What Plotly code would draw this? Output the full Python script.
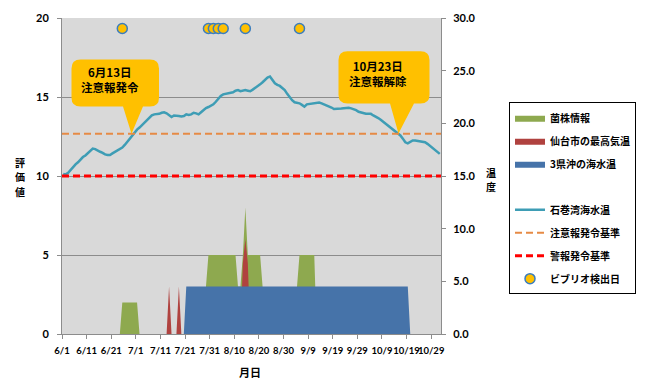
import pandas as pd
import plotly.graph_objects as go

# ---- data -------------------------------------------------------------
YEAR = 2013
FIRST_DAY = f"{YEAR}-06-01"
N_DAYS = 154  # 6/1 .. 11/1

# 石巻湾海水温 (℃), one value per day from 6/1
sea_temp_ishinomaki = [
    15.2, 15.15, 15.3, 15.6, 15.8, 16.1, 16.3, 16.6, 16.8, 16.95,
    17.2, 17.45, 17.6, 17.55, 17.4, 17.3, 17.2, 17.05, 17.0, 17.0,
    17.15, 17.3, 17.45, 17.6, 17.7, 17.95, 18.25, 18.5, 18.85, 19.15,
    19.4, 19.6, 19.85, 20.1, 20.3, 20.55, 20.75, 20.85, 20.85, 20.9,
    21.0, 21.05, 20.95, 20.8, 20.6, 20.75, 20.75, 20.7, 20.65, 20.7,
    20.85, 20.8, 20.85, 21.0, 20.95, 20.85, 21.05, 21.25, 21.45, 21.55,
    21.65, 21.8, 22.05, 22.35, 22.6, 22.75, 22.8, 22.85, 22.9, 22.95,
    23.1, 23.15, 23.05, 23.1, 23.15, 23.1, 23.05, 23.2, 23.35, 23.55,
    23.7, 23.9, 24.15, 24.35, 24.45, 24.1, 23.8, 23.65, 23.55, 23.35,
    23.15, 22.8, 22.45, 22.2, 22.0, 21.98, 21.9, 21.75, 21.58, 21.8,
    21.85, 21.9, 21.92, 21.95, 21.98, 21.9, 21.8, 21.72, 21.65, 21.5,
    21.36, 21.35, 21.36, 21.4, 21.43, 21.45, 21.48, 21.42, 21.36, 21.25,
    21.1, 21.02, 20.96, 20.92, 20.9, 20.9, 20.75, 20.65, 20.5, 20.34,
    20.15, 19.95, 19.75, 19.57, 19.4, 19.26, 19.05, 18.85, 18.55, 18.2,
    18.1, 18.25, 18.38, 18.37, 18.33, 18.32, 18.28, 18.2, 18.05, 17.85,
    17.65, 17.45, 17.3, 17.1,
]

# 菌株情報 (評価値): (from, to, value) runs; other days are 0
strain_info_runs = [
    ("06-25", "07-01", 2),
    ("07-29", "07-29", 3),
    ("07-30", "08-10", 5),
    ("08-11", "08-12", 3),
    ("08-13", "08-13", 5),
    ("08-14", "08-14", 8),
    ("08-15", "08-20", 5),
    ("08-21", "08-21", 3),
    ("09-04", "09-04", 3),
    ("09-05", "09-11", 5),
]

# 仙台市の最高気温 (評価値)
sendai_max_temp_runs = [
    ("07-14", "07-14", 3),
    ("07-18", "07-18", 3),
    ("08-13", "08-13", 4.5),
    ("08-14", "08-14", 6),
    ("08-15", "08-15", 4.5),
]

# 3県沖の海水温 (評価値)
offshore_temp_runs = [
    ("07-21", "10-19", 3),
]

# ビブリオ検出日 (plotted on the 温度 axis)
vibrio_dates = ["06-25", "07-30", "08-01", "08-03", "08-05", "08-14", "09-05"]
vibrio_level = 29.0

# 基準 (℃)
attention_level = 19.0   # 注意報発令基準
warning_level = 15.0     # 警報発令基準

# ---- helpers ----------------------------------------------------------
days = pd.date_range(f"{FIRST_DAY} 12:00", periods=N_DAYS, freq="D")


def daily_series(runs):
    s = pd.Series(0.0, index=days.normalize())
    for a, b, v in runs:
        s.loc[pd.Timestamp(f"{YEAR}-{a}"):pd.Timestamp(f"{YEAR}-{b}")] = v
    return s.values


x_start = pd.Timestamp(FIRST_DAY)
x_end = x_start + pd.Timedelta(days=N_DAYS)

W, H = 648, 382
ML, MR, MT, MB = 62, 207, 11, 48
PW, PH = W - ML - MR, H - MT - MB


def paper(px, py):
    return (px - ML) / PW, (H - MB - py) / PH


FONT = "Lato, 'Noto Sans CJK JP', sans-serif"
JP = "'Noto Sans CJK JP', Lato, sans-serif"

fig = go.Figure()

area_styles = [
    ("菌株情報", strain_info_runs, "#8EA94F"),
    ("仙台市の最高気温", sendai_max_temp_runs, "#B0423F"),
    ("3県沖の海水温", offshore_temp_runs, "#4673A9"),
]
for name, runs, color in area_styles:
    fig.add_trace(go.Scatter(
        x=days, y=daily_series(runs), name=name, mode="lines",
        fill="tozeroy", fillcolor=color, line=dict(width=0, color=color),
        legendgroup=name, yaxis="y",
    ))

# blank row in the legend between the two blocks
fig.add_trace(go.Scatter(
    x=[None], y=[None], name=" ", mode="lines",
    line=dict(width=0, color="rgba(0,0,0,0)"), legendgroup="blank",
    hoverinfo="skip",
))

fig.add_trace(go.Scatter(
    x=days, y=sea_temp_ishinomaki, name="石巻湾海水温", mode="lines",
    line=dict(color="#3E9DB5", width=2.5), legendgroup="sea", yaxis="y2",
))
fig.add_trace(go.Scatter(
    x=[x_start, x_end], y=[attention_level] * 2, name="注意報発令基準",
    mode="lines", line=dict(color="#E68A45", width=2, dash="7px,4px"),
    legendgroup="att", yaxis="y2",
))
fig.add_trace(go.Scatter(
    x=[x_start, x_end], y=[warning_level] * 2, name="警報発令基準",
    mode="lines", line=dict(color="#FF0000", width=3, dash="7px,4px"),
    legendgroup="warn", yaxis="y2",
))
fig.add_trace(go.Scatter(
    x=[pd.Timestamp(f"{YEAR}-{d} 12:00") for d in vibrio_dates],
    y=[vibrio_level] * len(vibrio_dates), name="ビブリオ検出日",
    mode="markers",
    marker=dict(size=10, color="#FFC000", line=dict(color="#3A7DBE", width=1.5)),
    legendgroup="vib", yaxis="y2", cliponaxis=False,
))

# ---- callouts ---------------------------------------------------------
def callout_path(left, right, top, bottom, base_l, base_r, tip, r=9):
    def P(x, y):
        X, Y = paper(x, y)
        return f"{X:.5f},{Y:.5f}"
    d = f"M{P(left + r, top)} L{P(right - r, top)} Q{P(right, top)} {P(right, top + r)} "
    d += f"L{P(right, bottom - r)} Q{P(right, bottom)} {P(right - r, bottom)} "
    d += f"L{P(base_r, bottom)} L{P(*tip)} L{P(base_l, bottom)} "
    d += f"L{P(left + r, bottom)} Q{P(left, bottom)} {P(left, bottom - r)} "
    d += f"L{P(left, top + r)} Q{P(left, top)} {P(left + r, top)} Z"
    return d


callouts = [
    dict(box=(71.5, 159, 53.5, 101.5), base=(123, 143), tip=(131.5, 129.3),
         text="6月13日<br>注意報発令", center=(110, 74)),
    dict(box=(338.5, 429.5, 45, 98.5), base=(390, 414), tip=(398.5, 129.0),
         text="10月23日<br>注意報解除", center=(378, 67.5)),
]
for c in callouts:
    fig.add_shape(type="path", xref="paper", yref="paper",
                  path=callout_path(*c["box"], *c["base"], c["tip"]),
                  fillcolor="#FFC000", line=dict(width=0), layer="above")
    cx, cy = paper(*c["center"])
    fig.add_annotation(x=cx, y=cy, xref="paper", yref="paper", text=c["text"],
                       showarrow=False, xanchor="center", yanchor="middle",
                       font=dict(family=JP, size=11.5, color="black", weight="bold"))


# ---- axis titles ------------------------------------------------------
def title_text(txt, px, py, size=11):
    ax, ay = paper(px, py)
    fig.add_annotation(x=ax, y=ay, xref="paper", yref="paper", text=txt,
                       showarrow=False, xanchor="center", yanchor="middle",
                       borderpad=0,
                       font=dict(family=JP, size=size, color="black", weight="bold"))


# vertical titles: one character per row
for i, ch in enumerate("評価値"):
    title_text(ch, 20, 158.5 + 15 * i, size=10)
for i, ch in enumerate("温度"):
    title_text(ch, 491, 168.5 + 15 * i, size=10)
title_text("月日", 250, 373)

axis_gray = "#8C8C8C"
fig.update_layout(
    width=W, height=H,
    margin=dict(l=ML, r=MR, t=MT, b=MB, pad=0),
    paper_bgcolor="white", plot_bgcolor="#D9D9D9",
    font=dict(family=FONT, color="black"),
    showlegend=True,
    legend=dict(
        x=(509 - ML) / PW, y=(H - MB - 97) / PH, xanchor="left", yanchor="top",
        bgcolor="white", bordercolor="black", borderwidth=1,
        font=dict(family=JP, size=10, color="black", weight="bold"),
        traceorder="grouped", tracegroupgap=4, itemwidth=30,
    ),
    xaxis=dict(
        type="date", range=[x_start, x_end],
        tick0=FIRST_DAY, dtick=10 * 86400000, tickformat="%-m/%-d",
        tickangle=0,
        showgrid=False, zeroline=False,
        showline=True, linecolor=axis_gray, linewidth=1,
        ticks="outside", ticklen=4, tickcolor=axis_gray,
        tickfont=dict(family=FONT, size=9.5, weight="bold"),
        ticklabelstandoff=4,
    ),
    yaxis=dict(
        range=[0, 20], dtick=5, tickformat="d",
        showgrid=True, gridcolor=axis_gray, gridwidth=1, zeroline=False,
        showline=True, linecolor=axis_gray, linewidth=1,
        ticks="outside", ticklen=4, tickcolor=axis_gray,
        tickfont=dict(family=FONT, size=11, weight="bold"),
        ticklabelstandoff=6,
    ),
    yaxis2=dict(
        range=[0, 30], dtick=5, tickformat=".1f", overlaying="y", side="right",
        showgrid=False, zeroline=False,
        showline=True, linecolor=axis_gray, linewidth=1,
        ticks="outside", ticklen=4, tickcolor=axis_gray,
        tickfont=dict(family=FONT, size=11, weight="bold"),
        ticklabelstandoff=5,
    ),
)

fig.write_html("out.html")
